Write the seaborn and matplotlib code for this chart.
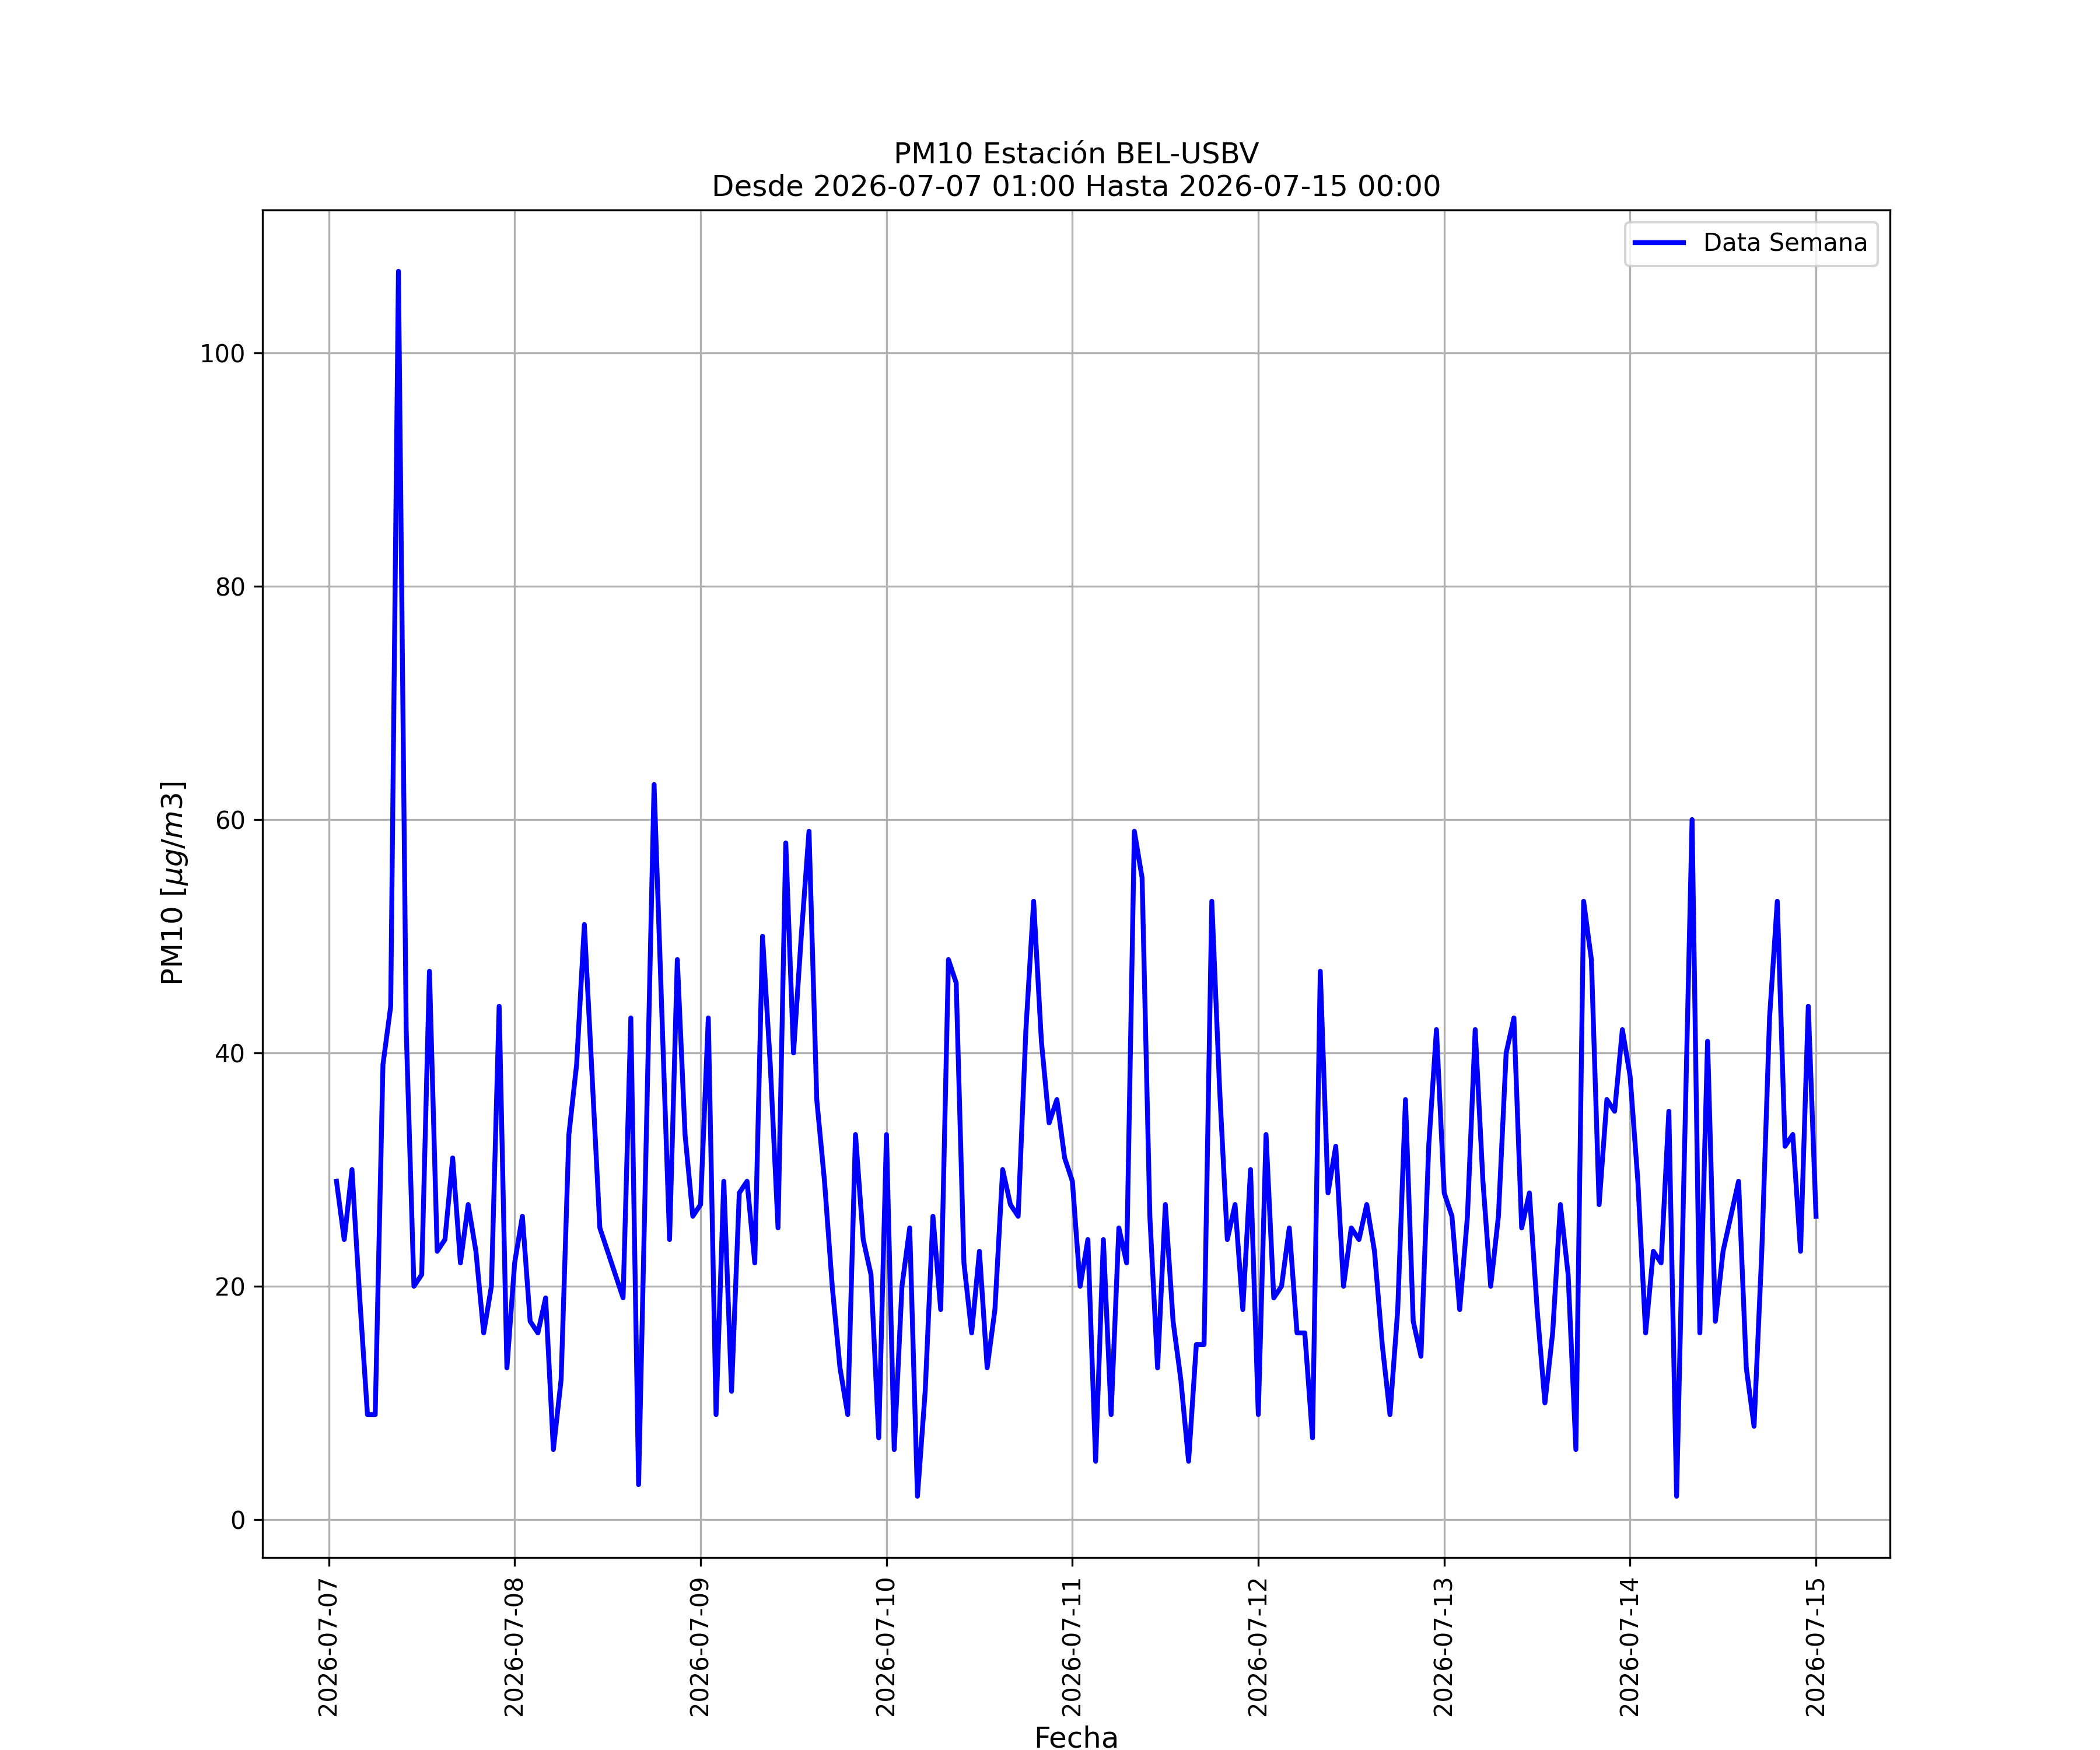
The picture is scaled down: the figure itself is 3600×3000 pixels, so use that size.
import pandas as pd
import matplotlib
matplotlib.use('Agg')
import matplotlib.pyplot as plt
import matplotlib.dates as mdates
import seaborn as sns

# hours after 2026-07-07 00:00 and PM10 values
hours = [1, 2, 3, 4, 5, 6, 7, 8, 9, 10, 11, 12, 13, 14, 15, 16, 17, 18, 19, 20, 21, 22, 23,
         24, 25, 26, 27, 28, 29, 30, 31, 32, 33, 34, 35, 38, 39, 40, 42, 44, 45, 46, 47,
         48, 49, 50, 51, 52, 53, 54, 55, 56, 57, 58, 59, 60, 61, 62, 63, 64, 65, 66, 67, 68, 69, 70, 71,
         72, 73, 74, 75, 76, 77, 78, 79, 80, 81, 82, 83, 84, 85, 86, 87, 88, 89, 90, 91, 92, 93, 94, 95,
         96, 97, 98, 99, 100, 101, 102, 103, 104, 105, 106, 107, 108, 109, 110, 111, 112, 113, 114, 115,
         116, 117, 118, 119,
         120, 121, 122, 123, 124, 125, 126, 127, 128, 129, 130, 131, 132, 133, 134, 135, 136, 137, 138,
         139, 140, 141, 142, 143,
         144, 145, 146, 147, 148, 149, 150, 151, 152, 153, 154, 155, 156, 157, 158, 159, 160, 161, 162,
         163, 164, 165, 166, 167,
         168, 169, 170, 171, 172, 173, 174, 175, 176, 177, 178, 179, 180, 181, 182, 183, 184, 185, 186,
         187, 188, 189, 190, 191, 192]
pm10 = [29, 24, 30, 19, 9, 9, 39, 44, 107, 42, 20, 21, 47, 23, 24, 31, 22, 27, 23, 16, 20, 44, 13,
        22, 26, 17, 16, 19, 6, 12, 33, 39, 51, 38, 25, 19, 43, 3, 63, 24, 48, 33, 26,
        27, 43, 9, 29, 11, 28, 29, 22, 50, 39, 25, 58, 40, 50, 59, 36, 29, 20, 13, 9, 33, 24, 21, 7,
        33, 6, 20, 25, 2, 11, 26, 18, 48, 46, 22, 16, 23, 13, 18, 30, 27, 26, 42, 53, 41, 34, 36, 31,
        29, 20, 24, 5, 24, 9, 25, 22, 59, 55, 26, 13, 27, 17, 12, 5, 15, 15, 53, 37,
        24, 27, 18, 30,
        9, 33, 19, 20, 25, 16, 16, 7, 47, 28, 32, 20, 25, 24, 27, 23, 15, 9, 18,
        36, 17, 14, 32, 42,
        28, 26, 18, 26, 42, 29, 20, 26, 40, 43, 25, 28, 18, 10, 16, 27, 21, 6, 53,
        48, 27, 36, 35, 42,
        38, 29, 16, 23, 22, 35, 2, 31, 60, 16, 41, 17, 23, 26, 29, 13, 8, 23, 43,
        53, 32, 33, 23, 44, 26]

df = pd.DataFrame({
    'Fecha': pd.Timestamp('2026-07-07') + pd.to_timedelta(hours, unit='h'),
    'PM10': pm10,
})

fig, ax = plt.subplots(figsize=(12, 10), dpi=300)
sns.lineplot(data=df, x='Fecha', y='PM10', ax=ax, color='blue', linewidth=2,
             label='Data Semana')

ax.set_title('PM10 Estación BEL-USBV\nDesde 2026-07-07 01:00 Hasta 2026-07-15 00:00', fontsize=12)
ax.set_xlabel('Fecha', fontsize=12)
ax.set_ylabel(r'PM10 [$\mu g/m3$]', fontsize=12)
ax.xaxis.set_major_locator(mdates.DayLocator())
ax.xaxis.set_major_formatter(mdates.DateFormatter('%Y-%m-%d'))
plt.setp(ax.get_xticklabels(), rotation=90)
ax.grid(True)
ax.legend(loc='upper right')

fig.savefig('out.png', dpi=300)
